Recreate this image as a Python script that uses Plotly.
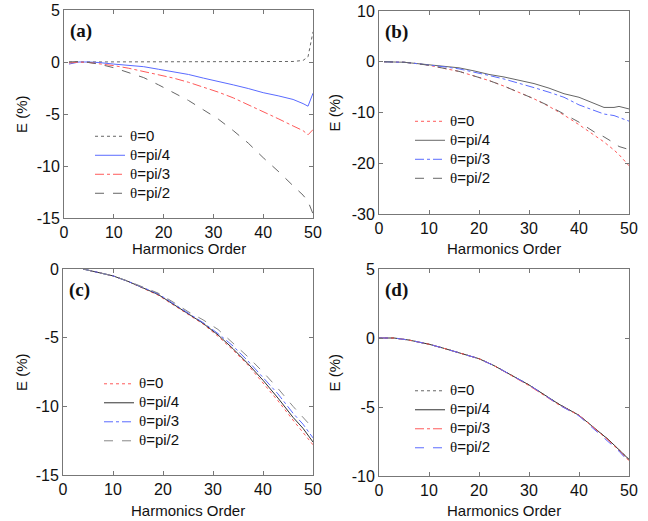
import plotly.graph_objects as go

# ---- data: relative error E (%) versus harmonic order ----
labels = ["θ=0", "θ=pi/4", "θ=pi/3", "θ=pi/2"]

# panel (a)
x_a = [1, 3, 5, 7, 10, 13, 16, 19, 22, 25, 28, 31, 34, 37, 40, 43, 46, 48, 49, 50]
a_0 = [0, 0, 0, 0, 0, 0, 0, 0, 0, 0, 0, 0, 0, 0, 0, 0.02, 0.05, 0.15, 0.5, 2.9]
a_pi4 = [-0.2, 0, 0, -0.05, -0.2, -0.3, -0.45, -0.7, -0.95, -1.2, -1.55, -1.85, -2.2,
         -2.55, -2.95, -3.25, -3.6, -4.0, -4.25, -3.0]
a_pi3 = [-0.1, 0, -0.05, -0.15, -0.35, -0.6, -0.9, -1.2, -1.55, -1.95, -2.4, -2.9, -3.45,
         -4.1, -4.75, -5.45, -6.15, -6.6, -7.0, -6.5]
a_pi2 = [0, 0.05, -0.05, -0.2, -0.55, -1.0, -1.5, -2.2, -2.95, -3.7, -4.6, -5.5, -6.6,
         -7.8, -9.2, -10.5, -11.9, -12.8, -13.4, -14.6]

# panel (b)
x_b = [1, 3, 5, 7, 10, 13, 16, 19, 22, 25, 28, 31, 34, 37, 40, 43, 45, 47, 48, 50]
b_0 = [0, 0, -0.1, -0.3, -0.7, -1.3, -1.9, -2.8, -3.7, -4.8, -6.0, -7.3, -8.8, -10.5,
       -12.4, -14.4, -15.8, -17.4, -18.3, -20.5]
b_pi4 = [0, 0, -0.1, -0.3, -0.6, -1.0, -1.2, -1.8, -2.5, -3.0, -3.6, -4.3, -5.2, -6.3,
         -7.0, -8.2, -9.0, -9.0, -8.8, -9.3]
b_pi3 = [0, 0, -0.1, -0.3, -0.6, -1.0, -1.4, -2.0, -2.7, -3.4, -4.2, -5.1, -6.0, -7.0,
         -8.5, -9.5, -10.3, -10.6, -11.0, -11.7]
b_pi2 = [0, 0, -0.1, -0.3, -0.7, -1.3, -1.9, -2.8, -3.7, -4.8, -6.0, -7.3, -8.7, -10.3,
         -11.9, -13.8, -14.8, -16.0, -16.7, -17.3]

# panel (c)
x_c = [4, 6, 8, 10, 13, 16, 19, 22, 25, 28, 31, 34, 37, 40, 43, 46, 48, 50]
c_0 = [0, -0.15, -0.3, -0.5, -0.9, -1.4, -1.9, -2.6, -3.3, -4.0, -4.9, -5.9, -7.0,
       -8.3, -9.6, -11.0, -11.9, -12.8]
c_pi4 = [0, -0.15, -0.3, -0.5, -0.9, -1.35, -1.85, -2.55, -3.25, -3.95, -4.8, -5.8,
         -6.9, -8.1, -9.4, -10.8, -11.6, -12.6]
c_pi3 = [0, -0.15, -0.3, -0.5, -0.9, -1.35, -1.8, -2.5, -3.2, -3.9, -4.7, -5.6,
         -6.7, -7.9, -9.1, -10.5, -11.3, -12.3]
c_pi2 = [0, -0.15, -0.3, -0.5, -0.88, -1.3, -1.75, -2.4, -3.1, -3.7, -4.4, -5.4,
         -6.4, -7.5, -8.7, -10.0, -10.8, -11.6]

# panel (d)
x_d = [0, 3, 6, 10, 13, 16, 20, 23, 26, 30, 33, 36, 40, 43, 46, 48, 50]
d_0 = [0, 0, -0.15, -0.45, -0.75, -1.05, -1.5, -2.0, -2.6, -3.4, -4.1, -4.8, -5.6,
       -6.5, -7.4, -8.1, -8.8]
d_pi4 = [0, 0, -0.15, -0.45, -0.75, -1.05, -1.5, -2.0, -2.6, -3.4, -4.1, -4.8, -5.6,
         -6.5, -7.4, -8.1, -8.8]
d_pi3 = [0, 0, -0.15, -0.45, -0.75, -1.05, -1.5, -2.0, -2.6, -3.45, -4.15, -4.85, -5.6,
         -6.5, -7.45, -8.15, -8.9]
d_pi2 = [0, 0, -0.15, -0.45, -0.75, -1.05, -1.5, -2.0, -2.6, -3.4, -4.1, -4.85, -5.65,
         -6.6, -7.5, -8.2, -9.0]

panel_tags = ["(a)", "(b)", "(c)", "(d)"]
x_title = "Harmonics Order"
y_title = "E (%)"
y_ranges = [[-15, 5], [-30, 10], [-15, 0], [-10, 5]]
y_ticks = [
    [-15, -10, -5, 0, 5],
    [-30, -20, -10, 0, 10],
    [-15, -10, -5, 0],
    [-10, -5, 0, 5],
]
x_ticks = [0, 10, 20, 30, 40, 50]

W, H = 648, 521
# plot boxes in pixels: (left, right, top, bottom)
boxes = [(64, 313, 10, 218), (379, 629, 11, 214), (63, 313, 269, 475), (379, 629, 269, 476)]
# axis-title centres in pixels: (x-title y, y-title x)
title_pos = [(249, 22), (249, 334), (510, 22), (510, 334)]

BLACK = "#333333"
GRAY = "#666666"
BLUE = "#5a6bff"
RED = "#ff5a5a"

styles = [
    [(GRAY, "dot"), (BLUE, "solid"), (RED, "dashdot"), (GRAY, "dash")],
    [(RED, "dot"), (GRAY, "solid"), (BLUE, "dashdot"), (GRAY, "dash")],
    [(RED, "dot"), (BLACK, "solid"), (BLUE, "dashdot"), ("#888888", "dash")],
    [(GRAY, "dot"), (BLACK, "solid"), (RED, "dashdot"), (BLUE, "dash")],
]

xs = [x_a, x_b, x_c, x_d]
series = [
    [a_0, a_pi4, a_pi3, a_pi2],
    [b_0, b_pi4, b_pi3, b_pi2],
    [c_0, c_pi4, c_pi3, c_pi2],
    [d_0, d_pi4, d_pi3, d_pi2],
]

# legend placement (left, top) in pixels
legend_pos = [(90, 122), (410, 107), (99, 370), (410, 377)]


def fmt_name(s):
    # serif theta, rest in sans; the span sets the drawn size while the
    # smaller legend font keeps the rows compact
    return ("<span style='font-size:15px'><span style='font-family:Liberation Serif'>θ</span>"
            + s[1:] + "</span>")


def tick_text(v):
    return str(v).replace("\u2212", "-")


fig = go.Figure()
layout = dict(
    width=W, height=H,
    margin=dict(l=0, r=0, t=0, b=0, autoexpand=False),
    paper_bgcolor="white", plot_bgcolor="white",
    font=dict(family="Liberation Sans, Arial", size=14, color="#111111"),
    annotations=[],
)

for i in range(4):
    n = i + 1
    xa = "x" if n == 1 else f"x{n}"
    ya = "y" if n == 1 else f"y{n}"
    leg = "legend" if n == 1 else f"legend{n}"
    for j in range(4):
        color, dash = styles[i][j]
        fig.add_trace(go.Scatter(
            x=xs[i], y=series[i][j], mode="lines",
            name=fmt_name(labels[j]),
            line=dict(color=color, width=1, dash=dash),
            xaxis=xa, yaxis=ya, legend=leg,
        ))
    l, r, t, b = boxes[i]
    axis_common = dict(
        showgrid=False, zeroline=False, showline=True, linecolor="#777777", linewidth=1,
        mirror="ticks", ticks="inside", ticklen=4, tickcolor="#777777",
        tickfont=dict(size=16, family="Liberation Sans, Arial", color="#111111"),
        automargin=False,
    )
    layout["xaxis" if n == 1 else f"xaxis{n}"] = dict(
        domain=[l / W, r / W], range=[0, 50], anchor=ya,
        tickmode="array", tickvals=x_ticks, ticktext=[tick_text(v) for v in x_ticks],
        **axis_common,
    )
    layout["yaxis" if n == 1 else f"yaxis{n}"] = dict(
        domain=[1 - b / H, 1 - t / H], range=y_ranges[i], anchor=xa,
        tickmode="array", tickvals=y_ticks[i], ticktext=[tick_text(v) for v in y_ticks[i]],
        **axis_common,
    )
    lx, ly = legend_pos[i]
    layout[leg] = dict(
        x=lx / W, y=1 - ly / H, xanchor="left", yanchor="top",
        bgcolor="rgba(0,0,0,0)", borderwidth=0,
        font=dict(size=12, family="Liberation Sans, Arial", color="#111111"),
        tracegroupgap=0, itemwidth=30,
    )
    # panel tag
    layout["annotations"].append(dict(
        text="<b>" + panel_tags[i] + "</b>", xref="paper", yref="paper",
        x=(l + 4) / W, y=1 - (t + 8) / H, xanchor="left", yanchor="top",
        showarrow=False, font=dict(family="Liberation Serif", size=19, color="#111111"),
    ))
    # axis titles
    tx_y, ty_x = title_pos[i]
    layout["annotations"].append(dict(
        text=x_title, xref="paper", yref="paper",
        x=(l + r) / 2 / W, y=1 - tx_y / H, xanchor="center", yanchor="middle",
        showarrow=False, font=dict(size=15, color="#111111"),
    ))
    layout["annotations"].append(dict(
        text=y_title, xref="paper", yref="paper", textangle=-90,
        x=ty_x / W, y=1 - (t + b) / 2 / H, xanchor="center", yanchor="middle",
        showarrow=False, font=dict(size=15, color="#111111"),
    ))

fig.update_layout(**layout)

# a second pass over the layout once the first draw has settled, so every
# legend picks up its own trace styles
redraw = ("var gd = document.getElementById('{plot_id}');"
          "Plotly.relayout(gd, {'margin.b': 0.5}).then(function(){"
          "return Plotly.relayout(gd, {'margin.b': 0});});")
fig.write_html("out.html", post_script=redraw)
